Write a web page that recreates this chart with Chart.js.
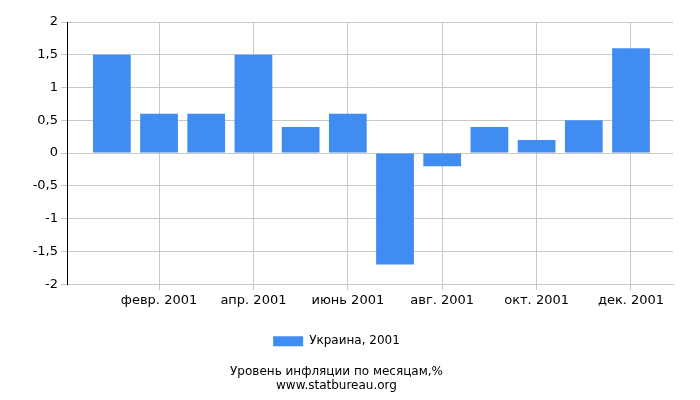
<!DOCTYPE html>
<html><head><meta charset="utf-8">
<script src="https://cdn.jsdelivr.net/npm/chart.js@4"></script>
<style>body{margin:0;background:#fff}#w{width:700px;height:400px}</style>
</head><body><div id="w"><canvas id="c"></canvas></div>
<script>
const months=[1,2,3,4,5,6,7,8,9,10,11,12];
const values=[1.5,0.6,0.6,1.5,0.4,0.6,-1.7,-0.2,0.4,0.2,0.5,1.6];
const tickLabels={2:'февр. 2001',4:'апр. 2001',6:'июнь 2001',8:'авг. 2001',10:'окт. 2001',12:'дек. 2001'};
const F='DejaVu Sans';
new Chart(document.getElementById('c'),{
type:'bar',
data:{datasets:[{label:'Украина, 2001',data:months.map((m,i)=>({x:m,y:values[i]})),backgroundColor:'#418cf0',barPercentage:0.8,categoryPercentage:1}]},
options:{responsive:true,maintainAspectRatio:false,animation:false,
layout:{padding:{top:22,right:27,left:0,bottom:0}},
scales:{
x:{type:'linear',min:0.05,max:12.89,offset:false,
 afterBuildTicks:a=>{a.ticks=[2,4,6,8,10,12].map(v=>({value:v}));},
 afterFit:a=>{a.height=37;},
 ticks:{autoSkip:false,maxRotation:0,color:'#000',font:{family:F,size:13},callback:v=>tickLabels[v]||''},
 grid:{color:'#c8c8c8',tickLength:6,offset:false},border:{color:'#c8c8c8'}},
y:{min:-2,max:2,
 afterFit:a=>{a.width=67;},
 ticks:{stepSize:0.5,color:'#000',font:{family:F,size:13},callback:v=>String(v).replace('.',',')},
 grid:{color:'#c8c8c8',tickLength:6},border:{color:'#000'}}
},
plugins:{
legend:{position:'bottom',labels:{color:'#000',font:{family:F,size:12},boxWidth:30,boxHeight:10,padding:14}},
title:{display:true,position:'bottom',text:['Уровень инфляции по месяцам,%','www.statbureau.org'],color:'#000',font:{family:F,size:12,weight:'normal'},padding:{top:7,bottom:7},lineHeight:0.95}
}}
});
</script></body></html>
